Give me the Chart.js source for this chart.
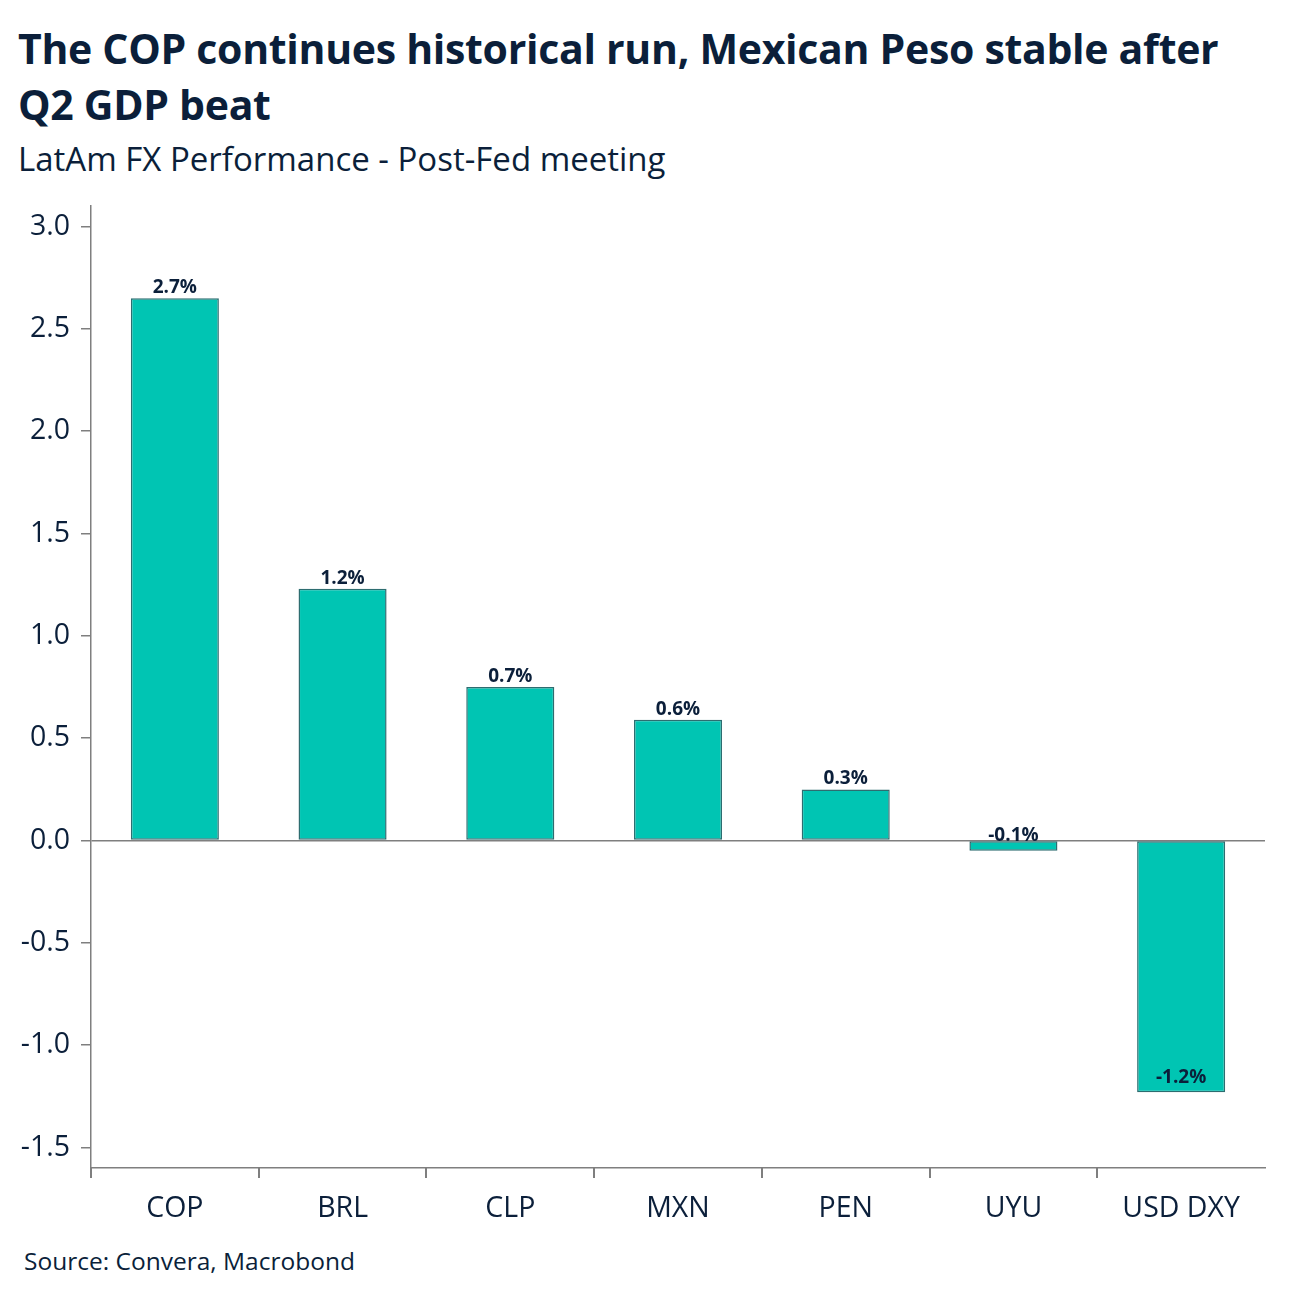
<!DOCTYPE html>
<html>
<head>
<meta charset="utf-8">
<script src="https://cdn.jsdelivr.net/npm/chart.js@4"></script>
<style>
  html, body { margin:0; padding:0; background:#fff; }
  body { width:1300px; height:1302px; position:relative; overflow:hidden; font-family:"Open Sans", "Noto Sans", sans-serif; color:#0b1f3a; }
  #title { position:absolute; left:18px; top:20px; font-weight:700; font-size:41px; line-height:56px; letter-spacing:-0.3px; white-space:nowrap; }
  #subtitle { position:absolute; left:18px; top:137px; font-size:33px; line-height:44px; white-space:nowrap; }
  #source { position:absolute; left:24px; top:1245px; font-size:24.5px; line-height:32px; white-space:nowrap; }
  #wrap { position:absolute; left:0; top:178px; width:1300px; height:1062px; }
</style>
</head>
<body>
<div id="title">The COP continues historical run, Mexican Peso stable after<br>Q2 GDP beat</div>
<div id="subtitle">LatAm FX Performance - Post-Fed meeting</div>
<div id="source">Source: Convera, Macrobond</div>
<div id="wrap"><canvas id="c" width="1300" height="1062"></canvas></div>
<script>
const categories = ["COP", "BRL", "CLP", "MXN", "PEN", "UYU", "USD DXY"];
const values = [2.65, 1.23, 0.75, 0.59, 0.25, -0.05, -1.23];
const valueLabels = ["2.7%", "1.2%", "0.7%", "0.6%", "0.3%", "-0.1%", "-1.2%"];
const yTicks = [-1.5, -1.0, -0.5, 0.0, 0.5, 1.0, 1.5, 2.0, 2.5, 3.0];

const navy = "#0b1f3a";
const axisGray = "#7f7f7f";
const fontFam = "'Open Sans', 'Noto Sans', sans-serif";

const labelPlugin = {
  id: "barLabels",
  afterDatasetsDraw(chart) {
    const ctx = chart.ctx;
    const meta = chart.getDatasetMeta(0);
    ctx.save();
    ctx.font = "bold 19px " + fontFam;
    ctx.fillStyle = navy;
    ctx.textAlign = "center";
    ctx.textBaseline = "bottom";
    meta.data.forEach((bar, i) => {
      const v = values[i];
      const txt = valueLabels[i];
      const h = Math.abs(bar.base - bar.y);
      if (v >= 0) {
        ctx.fillText(txt, bar.x, bar.y - 1);
      } else if (h > 40) {
        ctx.fillText(txt, bar.x, bar.y - 5);
      } else {
        ctx.fillText(txt, bar.x, bar.base + 4);
      }
    });
    ctx.restore();
  }
};

// category-boundary tick marks below the x axis (none at the far right end)
const xTickPlugin = {
  id: "xBoundaryTicks",
  afterDraw(chart) {
    const xs = chart.scales.x;
    const ctx = chart.ctx;
    const n = categories.length;
    ctx.save();
    ctx.strokeStyle = axisGray;
    ctx.lineWidth = 2;
    for (let i = 0; i < n; i++) {
      const px = i === 0 ? xs.left : (xs.getPixelForTick(i - 1) + xs.getPixelForTick(i)) / 2;
      const x = Math.round(px);
      ctx.beginPath();
      ctx.moveTo(x, xs.top);
      ctx.lineTo(x, xs.top + 10);
      ctx.stroke();
    }
    ctx.restore();
  }
};

new Chart(document.getElementById("c"), {
  type: "bar",
  data: {
    labels: categories,
    datasets: [{
      data: values,
      backgroundColor: "#00c5b3",
      borderColor: "#2d6d70",
      borderWidth: 1.5,
      borderSkipped: false,
      barPercentage: 0.525,
      categoryPercentage: 1.0
    }]
  },
  options: {
    responsive: false,
    animation: false,
    layout: { padding: { left: 0, right: 35, top: 8, bottom: 0 } },
    plugins: { legend: { display: false }, tooltip: { enabled: false } },
    scales: {
      x: {
        offset: true,
        grid: { offset: true, drawOnChartArea: false, drawTicks: false },
        border: { display: true, color: axisGray, width: 1.5 },
        ticks: { color: navy, font: { size: 28.5, family: fontFam }, padding: 24 },
        afterFit: (s) => { s.height = 72; }
      },
      y: {
        min: -1.6,
        max: 3.1,
        afterBuildTicks: (s) => { s.ticks = yTicks.map(v => ({ value: v })); },
        grid: {
          drawTicks: true,
          tickLength: 10,
          tickColor: axisGray,
          tickWidth: 1.5,
          color: (c) => (c.tick && Math.abs(c.tick.value) < 1e-9 ? axisGray : "rgba(0,0,0,0)"),
          lineWidth: 1.5
        },
        border: { display: true, color: axisGray, width: 1.5 },
        ticks: {
          color: navy,
          font: { size: 28.5, family: fontFam },
          padding: 11,
          callback: (v) => Number(v).toFixed(1)
        },
        afterFit: (s) => { s.width = 91; }
      }
    }
  },
  plugins: [labelPlugin, xTickPlugin]
});
</script>
</body>
</html>
